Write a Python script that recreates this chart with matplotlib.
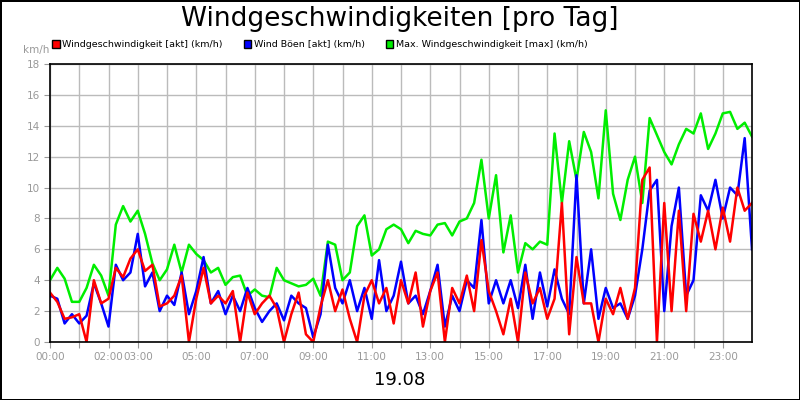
import numpy as np
import matplotlib
matplotlib.use("Agg")
import matplotlib.pyplot as plt
from matplotlib.patches import Patch

hours = np.arange(0, 24.01, 0.25)
max_wind = [4.0,4.8,4.1,2.6, 2.6,3.5,5.0,4.3, 3.0,7.6,8.8,7.8, 8.5,7.0,5.1,4.0,
            4.7,6.3,4.5,6.3, 5.7,5.3,4.5,4.8, 3.7,4.2,4.3,3.0, 3.4,3.0,2.9,4.8,
            4.0,3.8,3.6,3.7, 4.1,3.0,6.5,6.3, 4.0,4.5,7.5,8.2, 5.6,6.0,7.3,7.6,
            7.3,6.4,7.2,7.0, 6.9,7.6,7.7,6.9, 7.8,8.0,9.0,11.8, 8.0,10.8,5.8,8.2,
            4.5,6.4,6.0,6.5, 6.3,13.5,9.0,13.0, 10.5,13.6,12.3,9.3, 15.0,9.6,7.9,10.5,
            12.0,9.0,14.5,13.4, 12.3,11.5,12.8,13.8, 13.5,14.8,12.5,13.5, 14.8,14.9,13.8,14.2, 13.3]
gusts = [3.0,2.8,1.2,1.8, 1.2,1.7,3.8,2.5, 1.0,5.0,4.0,4.5, 7.0,3.6,4.5,2.0,
         3.0,2.4,4.5,1.8, 3.3,5.5,2.5,3.3, 1.8,3.0,2.0,3.5, 2.2,1.3,2.0,2.5,
         1.4,3.0,2.5,2.2, 0.3,1.8,6.3,3.5, 2.5,4.0,2.0,3.5, 1.5,5.3,2.0,3.0,
         5.2,2.5,3.0,1.8, 3.3,5.0,1.0,3.0, 2.0,4.0,3.5,7.9, 2.5,4.0,2.5,4.0,
         2.2,5.0,1.5,4.5, 2.3,4.7,2.8,1.8, 10.8,2.5,6.0,1.5, 3.5,2.2,2.5,1.5,
         3.0,6.0,9.8,10.5, 2.0,7.5,10.0,3.0, 4.0,9.5,8.5,10.5, 8.0,10.0,9.5,13.2, 6.0]
speed = [3.2,2.6,1.5,1.6, 1.8,0.0,4.0,2.5, 2.8,4.8,4.2,5.4, 6.0,4.6,5.0,2.3,
         2.5,3.0,4.3,0.0, 2.8,4.8,2.5,3.0, 2.5,3.3,0.0,3.2, 1.8,2.5,3.0,2.2,
         0.0,1.8,3.2,0.5, 0.0,2.3,4.0,2.0, 3.4,1.5,0.0,3.0, 4.0,2.5,3.5,1.2,
         4.0,2.5,4.5,1.0, 3.3,4.5,0.0,3.5, 2.5,4.3,2.0,6.6, 3.3,2.0,0.5,2.8,
         0.0,4.5,2.5,3.5, 1.5,2.8,9.0,0.5, 5.5,2.5,2.5,0.0, 2.8,1.8,3.5,1.5,
         3.5,10.5,11.3,0.0, 9.0,2.0,8.5,2.0, 8.3,6.5,8.5,6.0, 8.7,6.5,10.0,8.5, 9.0]
tick_hours = list(range(0, 24))
tick_labels = ["00:00", "", "02:00", "03:00", "", "05:00", "", "07:00", "", "09:00", "",
               "11:00", "", "13:00", "", "15:00", "", "17:00", "", "19:00", "", "21:00", "", "23:00"]

fig = plt.figure(figsize=(8, 4), dpi=100)
fig.patch.set_edgecolor("black")
fig.patch.set_linewidth(2)
ax = fig.add_axes([0.0625, 0.145, 0.8775, 0.695])
ax.plot(hours, max_wind, color="#00ee00", lw=1.8, label="Max. Windgeschwindigkeit [max] (km/h)")
ax.plot(hours, gusts, color="#0000ff", lw=1.8, label="Wind Böen [akt] (km/h)")
ax.plot(hours, speed, color="#ff0000", lw=1.8, label="Windgeschwindigkeit [akt] (km/h)")
ax.set_xlim(0, 24)
ax.set_ylim(0, 18)
ax.set_yticks(range(0, 19, 2))
ax.set_xticks(tick_hours)
ax.set_xticklabels(tick_labels)
ax.grid(True, color="#bbbbbb", lw=1)
ax.set_axisbelow(True)
ax.tick_params(labelsize=7.5, labelcolor="#999999", color="#999999", length=4)
for s in ax.spines.values():
    s.set_color("black")
    s.set_linewidth(1.2)

fig.text(0.5, 0.953, "Windgeschwindigkeiten [pro Tag]", ha="center", va="center", fontsize=19)
fig.text(0.5, 0.05, "19.08", ha="center", va="center", fontsize=13)
fig.text(0.045, 0.875, "km/h", ha="center", va="center", fontsize=7.5, color="#999999")

h, l = ax.get_legend_handles_labels()
order = [2, 1, 0]
handles = [Patch(facecolor=h[i].get_color(), edgecolor="black") for i in order]
fig.legend(handles, [l[i] for i in order], loc="center left", bbox_to_anchor=(0.065, 0.888),
           ncol=3, frameon=False, fontsize=6.8, handlelength=0.8, handleheight=0.8,
           handletextpad=0.3, columnspacing=2.2, borderaxespad=0, borderpad=0)
fig.savefig("out.png", dpi=100, edgecolor=fig.get_edgecolor())
